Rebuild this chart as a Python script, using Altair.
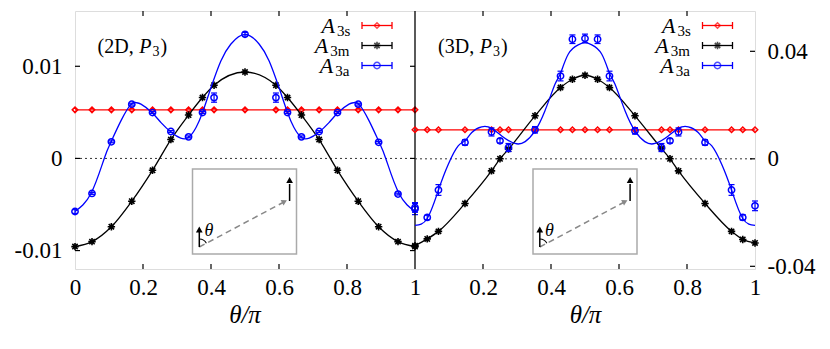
import json
import altair as alt
import pandas as pd

FONT = "Liberation Serif"
W, H = 680, 258
RED, BLACK, BLUE = "#ff0000", "#000000", "#0000ff"

# ---------------- data ----------------
# Left panel (2D, P3)
L_x = [0.0, 0.050, 0.107, 0.167, 0.228, 0.282, 0.334, 0.375, 0.409, 0.5,
       0.591, 0.625, 0.666, 0.718, 0.772, 0.833, 0.893, 0.950, 1.0]
L_a3s = [0.00527, 0.00527, 0.00527, 0.00527, 0.00527, 0.00527, 0.00527, 0.00527, 0.00527, 0.00527,
         0.00527, 0.00527, 0.00527, 0.00527, 0.00527, 0.00527, 0.00527, 0.00527, 0.00527]
L_a3m = [-0.00957, -0.00903, -0.00741, -0.00464, -0.00129, 0.00205, 0.00471, 0.00661, 0.00795, 0.00938,
         0.00795, 0.00661, 0.00471, 0.00205, -0.00129, -0.00464, -0.00741, -0.00903, -0.00957]
L_a3a = [-0.00576, -0.00380, 0.00180, 0.00589, 0.00498, 0.00292, 0.00234, 0.00498, 0.00660, 0.01347,
         0.00660, 0.00498, 0.00234, 0.00292, 0.00498, 0.00589, 0.00175, -0.00387, -0.00550]
L_a3a_err = [0.0002, 0.0001, 0.0001, 0.0001, 0.0001, 0.0001, 0.0001, 0.0001, 0.0005, 0.0002,
             0.0005, 0.0001, 0.0001, 0.0001, 0.0001, 0.0001, 0.0001, 0.0001, 0.0006]
L_fit_x = [0.0, 0.047, 0.086, 0.106, 0.135, 0.165, 0.179, 0.194, 0.226, 0.253, 0.284, 0.311,
           0.334, 0.356, 0.375, 0.400, 0.429, 0.458, 0.5, 0.542, 0.571, 0.600, 0.625, 0.644,
           0.666, 0.689, 0.716, 0.747, 0.774, 0.806, 0.821, 0.835, 0.865, 0.894, 0.914, 0.953, 1.0]
L_fit_a3a = [-0.00576, -0.00380, 0.0, 0.00180, 0.00408, 0.00589, 0.00606, 0.00589, 0.00498, 0.00389,
             0.00281, 0.00220, 0.00227, 0.00335, 0.00498, 0.00769, 0.01058, 0.01239, 0.01347,
             0.01239, 0.01058, 0.00769, 0.00498, 0.00335, 0.00227, 0.00220, 0.00281, 0.00389,
             0.00498, 0.00589, 0.00606, 0.00589, 0.00408, 0.00180, 0.0, -0.00380, -0.00576]

# Right panel (3D, P3)
R_x = [0.0, 0.036, 0.069, 0.147, 0.225, 0.25, 0.275, 0.353, 0.428, 0.463, 0.5,
       0.537, 0.572, 0.647, 0.725, 0.75, 0.775, 0.853, 0.931, 0.964, 1.0]
R_a3s = [0.0108, 0.0108, 0.0108, 0.0108, 0.0108, 0.0108, 0.0108, 0.0108, 0.0108, 0.0108, 0.0108,
         0.0108, 0.0108, 0.0108, 0.0108, 0.0108, 0.0108, 0.0108, 0.0108, 0.0108, 0.0108]
R_a3m = [-0.0323, -0.0298, -0.0270, -0.0166, -0.0045, 0.0000, 0.0036, 0.0160, 0.0265, 0.0296, 0.0311,
         0.0296, 0.0265, 0.0160, 0.0038, 0.0000, -0.0045, -0.0166, -0.0270, -0.0300, -0.0313]
R_a3a = [-0.0181, -0.0218, -0.0116, 0.0061, 0.0100, 0.0067, 0.0042, 0.0108, 0.0308, 0.0445, 0.0448,
         0.0445, 0.0308, 0.0104, 0.0042, 0.0067, 0.0100, 0.0061, -0.0116, -0.0218, -0.0175]
R_a3a_err = [0.0018, 0.0008, 0.0020, 0.0010, 0.0015, 0.0008, 0.0015, 0.0012, 0.0018, 0.0016, 0.0016,
             0.0016, 0.0018, 0.0012, 0.0015, 0.0008, 0.0015, 0.0010, 0.0020, 0.0010, 0.0018]
R_fit_x = [0.0, 0.036, 0.069, 0.098, 0.127, 0.147, 0.167, 0.196, 0.225, 0.255, 0.294, 0.324,
           0.353, 0.382, 0.412, 0.428, 0.451, 0.480, 0.5, 0.520, 0.549, 0.572, 0.588, 0.618,
           0.647, 0.676, 0.706, 0.745, 0.775, 0.804, 0.833, 0.853, 0.873, 0.902, 0.931, 0.964, 1.0]
R_fit_a3a = [-0.0248, -0.0222, -0.0116, -0.0020, 0.0048, 0.0067, 0.0098, 0.0119, 0.0114, 0.0085,
             0.0057, 0.0064, 0.0104, 0.0178, 0.0278, 0.0318, 0.0390, 0.0424, 0.0432,
             0.0424, 0.0390, 0.0318, 0.0278, 0.0178, 0.0104, 0.0064, 0.0057, 0.0085, 0.0114,
             0.0119, 0.0098, 0.0067, 0.0048, -0.0020, -0.0116, -0.0222, -0.0248]

# axes
x_ticks = [0.0, 0.2, 0.4, 0.6, 0.8, 1.0, 1.2, 1.4, 1.6, 1.8, 2.0]
x_tick_labels = ["0", "0.2", "0.4", "0.6", "0.8", "1", "0.2", "0.4", "0.6", "0.8", "1"]
L_yticks = [-0.01, 0.0, 0.01]
L_ytick_labels = ["-0.01", "0", "0.01"]
R_yticks = [-0.04, 0.0, 0.04]
R_ytick_labels = ["-0.04", "0", "0.04"]
L_ydomain = [-0.012, 0.016]
R_ydomain = [-0.041, 0.055]

series_names = ["3s", "3m", "3a"]
panel_names = ["2D", "3D"]
x_title = "θ/π"


def lookup(vals, labs):
    return f"{json.dumps(labs)}[indexof({json.dumps(vals)}, datum.value)]"


dummy = pd.DataFrame({"d": [0]})
ASTER = "M-1,0L1,0M0,-1L0,1M-0.72,-0.72L0.72,0.72M-0.72,0.72L0.72,-0.72"

xscale = alt.Scale(domain=[0, 2], nice=False, zero=False)
xaxis = alt.Axis(values=x_ticks, labelExpr=lookup(x_ticks, x_tick_labels), grid=False, ticks=False,
                 domain=False, labelFont=FONT, labelFontSize=23, labelColor="black", labelPadding=7,
                 labelFlush=False, labelOverlap=False, title=None)


def yaxis(orient, ticks, labels):
    return alt.Axis(orient=orient, values=ticks, labelExpr=lookup(ticks, labels), grid=False,
                    ticks=False, domain=False, labelFont=FONT, labelFontSize=23, labelColor="black",
                    labelPadding=13 if orient == "left" else 12, title=None,
                    minExtent=62, maxExtent=62, labelOverlap=False)


def deco(dx, name):
    """legend, panel label, inset and x-title (pixel-placed annotations)"""
    L = []
    # legend
    rows_y = [14.5, 34.5, 54.5]
    sub_x = [262, 255.3, 260.3]
    colors = [RED, BLACK, BLUE]
    for i in range(3):
        y = rows_y[i]
        L.append(alt.Chart(dummy).mark_text(text="A", font=FONT, fontStyle="italic", fontSize=22,
                                            align="right", baseline="alphabetic", color="black")
                 .encode(x=alt.value(sub_x[i] - 2 + dx), y=alt.value(y + 7.5)))
        L.append(alt.Chart(dummy).mark_text(text=series_names[i], font=FONT, fontSize=15,
                                            align="left", baseline="alphabetic", color="black")
                 .encode(x=alt.value(sub_x[i] + dx), y=alt.value(y + 10)))
        L.append(alt.Chart(dummy).mark_rule(color=colors[i], strokeWidth=1.3)
                 .encode(x=alt.value(287 + dx), x2=alt.value(317 + dx), y=alt.value(y)))
        for cx in (287, 317):
            L.append(alt.Chart(dummy).mark_rule(color=colors[i], strokeWidth=1.3)
                     .encode(x=alt.value(cx + dx), y=alt.value(y - 3.5), y2=alt.value(y + 3.5)))
    L.append(alt.Chart(dummy).mark_point(shape="diamond", filled=False, color=RED, size=30, strokeWidth=1.5)
             .encode(x=alt.value(302 + dx), y=alt.value(rows_y[0])))
    L.append(alt.Chart(dummy).mark_point(shape=ASTER, filled=False, color=BLACK, size=55, strokeWidth=1.6)
             .encode(x=alt.value(302 + dx), y=alt.value(rows_y[1])))
    L.append(alt.Chart(dummy).mark_point(shape="circle", filled=False, color=BLUE, size=40, strokeWidth=1.5)
             .encode(x=alt.value(302 + dx), y=alt.value(rows_y[2])))
    # panel label  (2D, P3)
    L.append(alt.Chart(dummy).mark_text(text="(" + name + ",", font=FONT, fontSize=20, align="left",
                                        baseline="alphabetic", color="black")
             .encode(x=alt.value(22.6 + dx), y=alt.value(41.5)))
    L.append(alt.Chart(dummy).mark_text(text="P", font=FONT, fontStyle="italic", fontSize=20, align="left",
                                        baseline="alphabetic", color="black")
             .encode(x=alt.value(64.3 + dx), y=alt.value(41.5)))
    L.append(alt.Chart(dummy).mark_text(text="3", font=FONT, fontSize=14, align="left",
                                        baseline="alphabetic", color="black")
             .encode(x=alt.value(77.5 + dx), y=alt.value(45)))
    L.append(alt.Chart(dummy).mark_text(text=")", font=FONT, fontSize=20, align="left",
                                        baseline="alphabetic", color="black")
             .encode(x=alt.value(85.5 + dx), y=alt.value(41.5)))
    # inset
    L.append(alt.Chart(dummy).mark_rect(fill="white", fillOpacity=0, stroke="#aaaaaa", strokeWidth=1.5)
             .encode(x=alt.value(117.5 + dx), x2=alt.value(221.5 + dx), y=alt.value(158), y2=alt.value(243)))
    L.append(alt.Chart(dummy).mark_rule(color="#888888", strokeWidth=1.5, strokeDash=[6, 4])
             .encode(x=alt.value(124.3 + dx), y=alt.value(236), x2=alt.value(208 + dx), y2=alt.value(191.5)))
    L.append(alt.Chart(dummy).mark_point(shape="triangle-up", filled=True, color="#888888", size=40,
                                         angle=62.4, opacity=1)
             .encode(x=alt.value(209.5 + dx), y=alt.value(190.5)))
    L.append(alt.Chart(dummy).mark_rule(color="black", strokeWidth=1.5)
             .encode(x=alt.value(124.3 + dx), y=alt.value(236), y2=alt.value(220)))
    L.append(alt.Chart(dummy).mark_point(shape="triangle-up", filled=True, color="black", size=45, opacity=1)
             .encode(x=alt.value(124.3 + dx), y=alt.value(218.5)))
    L.append(alt.Chart(dummy).mark_rule(color="black", strokeWidth=1.5)
             .encode(x=alt.value(214.6 + dx), y=alt.value(190), y2=alt.value(173)))
    L.append(alt.Chart(dummy).mark_point(shape="triangle-up", filled=True, color="black", size=45, opacity=1)
             .encode(x=alt.value(214.6 + dx), y=alt.value(169)))
    L.append(alt.Chart(dummy).mark_arc(color="black", theta=0, theta2=1.09, radius=8.5, radius2=7.5)
             .encode(x=alt.value(124.3 + dx), y=alt.value(236)))
    L.append(alt.Chart(dummy).mark_text(text="θ", font=FONT, fontStyle="italic", fontSize=18, align="left",
                                        baseline="middle", color="black")
             .encode(x=alt.value(129.5 + dx), y=alt.value(220)))
    # x title
    L.append(alt.Chart(dummy).mark_text(text=x_title, font=FONT, fontStyle="italic", fontSize=25,
                                        align="center", baseline="middle", color="black")
             .encode(x=alt.value(170 + dx), y=alt.value(H + 45.5)))
    return L


def panel(xs, a3s, a3m, a3a, a3a_err, fit_x, fit_y, ydomain, yax, yticks, shift, tick_edges):
    pts = pd.DataFrame({"x": xs, "s": a3s, "m": a3m, "a": a3a, "e": a3a_err})
    fit = pd.DataFrame({"x": fit_x, "a": fit_y})
    ys = alt.Scale(domain=ydomain, nice=False, zero=False)
    X = alt.X("xx:Q", scale=xscale, axis=xaxis)

    def Y(f):
        return alt.Y(f + ":Q", scale=ys, axis=yax)

    base = alt.Chart(pts).transform_calculate(xx=f"datum.x + {shift}",
                                             lo="datum.a - datum.e", hi="datum.a + datum.e")
    layers = []
    zero = pd.DataFrame({"z": [0.0]})
    x0 = 340 * shift
    layers.append(alt.Chart(zero).mark_rule(color="#333333", strokeWidth=1, strokeDash=[2, 3])
                  .encode(y=Y("z"), x=alt.value(x0), x2=alt.value(x0 + 340)))
    tk = pd.DataFrame({"v": yticks})
    for a, b in tick_edges:
        layers.append(alt.Chart(tk).mark_rule(color="black", strokeWidth=1.2)
                      .encode(y=Y("v"), x=alt.value(a), x2=alt.value(b)))
    layers += [
        base.mark_line(color=RED, strokeWidth=1.3).encode(x=X, y=Y("s")),
        base.mark_point(shape="diamond", filled=False, color=RED, size=30, strokeWidth=1.5, opacity=1)
            .encode(x=X, y=Y("s")),
        base.mark_line(color=BLACK, strokeWidth=1.3, interpolate="monotone").encode(x=X, y=Y("m")),
        base.mark_point(shape=ASTER, filled=False, color=BLACK, size=55, strokeWidth=1.6, opacity=1)
            .encode(x=X, y=Y("m")),
        alt.Chart(fit).transform_calculate(xx=f"datum.x + {shift}")
            .mark_line(color=BLUE, strokeWidth=1.3, interpolate="natural").encode(x=X, y=Y("a")),
        base.mark_rule(color=BLUE, strokeWidth=1.2).encode(x=X, y=Y("lo"), y2="hi:Q"),
        base.mark_tick(orient="horizontal", color=BLUE, size=6, thickness=1.2, opacity=1).encode(x=X, y=Y("lo")),
        base.mark_tick(orient="horizontal", color=BLUE, size=6, thickness=1.2, opacity=1).encode(x=X, y=Y("hi")),
        base.mark_point(shape="circle", filled=False, color=BLUE, size=40, strokeWidth=1.5, opacity=1)
            .encode(x=X, y=Y("a")),
    ]
    return layers


# x ticks (inward) and divider
xt = pd.DataFrame({"v": [v for v in x_ticks if v not in (0.0, 1.0, 2.0)]})
xt_layers = [
    alt.Chart(xt).mark_rule(color="black", strokeWidth=1.2)
        .encode(x=alt.X("v:Q", scale=xscale, axis=xaxis), y=alt.value(H), y2=alt.value(H - 5)),
    alt.Chart(xt).mark_rule(color="black", strokeWidth=1.2)
        .encode(x=alt.X("v:Q", scale=xscale, axis=xaxis), y=alt.value(0), y2=alt.value(5)),
    alt.Chart(pd.DataFrame({"v": [1.0]})).mark_rule(color="black", strokeWidth=1.3)
        .encode(x=alt.X("v:Q", scale=xscale, axis=xaxis), y=alt.value(0), y2=alt.value(H)),
]

left_axis = yaxis("left", L_yticks, L_ytick_labels)
right_axis = yaxis("right", R_yticks, R_ytick_labels)

left_group = alt.layer(
    *panel(L_x, L_a3s, L_a3m, L_a3a, L_a3a_err, L_fit_x, L_fit_a3a, L_ydomain, left_axis, L_yticks, 0,
           [(0, 5), (335, 340)]),
    *xt_layers,
    *deco(0, panel_names[0]),
)
right_group = alt.layer(
    *panel(R_x, R_a3s, R_a3m, R_a3a, R_a3a_err, R_fit_x, R_fit_a3a, R_ydomain, right_axis, R_yticks, 1,
           [(675, 680)]),
    *deco(340.5, panel_names[1]),
)

chart = (
    alt.layer(left_group, right_group)
    .resolve_scale(y="independent")
    .properties(width=W, height=H, padding={"left": 5, "top": 2, "right": 5, "bottom": 5},
                background="white")
    .configure_view(stroke="black", strokeWidth=1.3)
    .configure_axis(labelFont=FONT)
    .configure_text(font=FONT)
    .configure(font=FONT)
)

chart.save("out.html", embed_options={"renderer": "svg", "actions": False})
